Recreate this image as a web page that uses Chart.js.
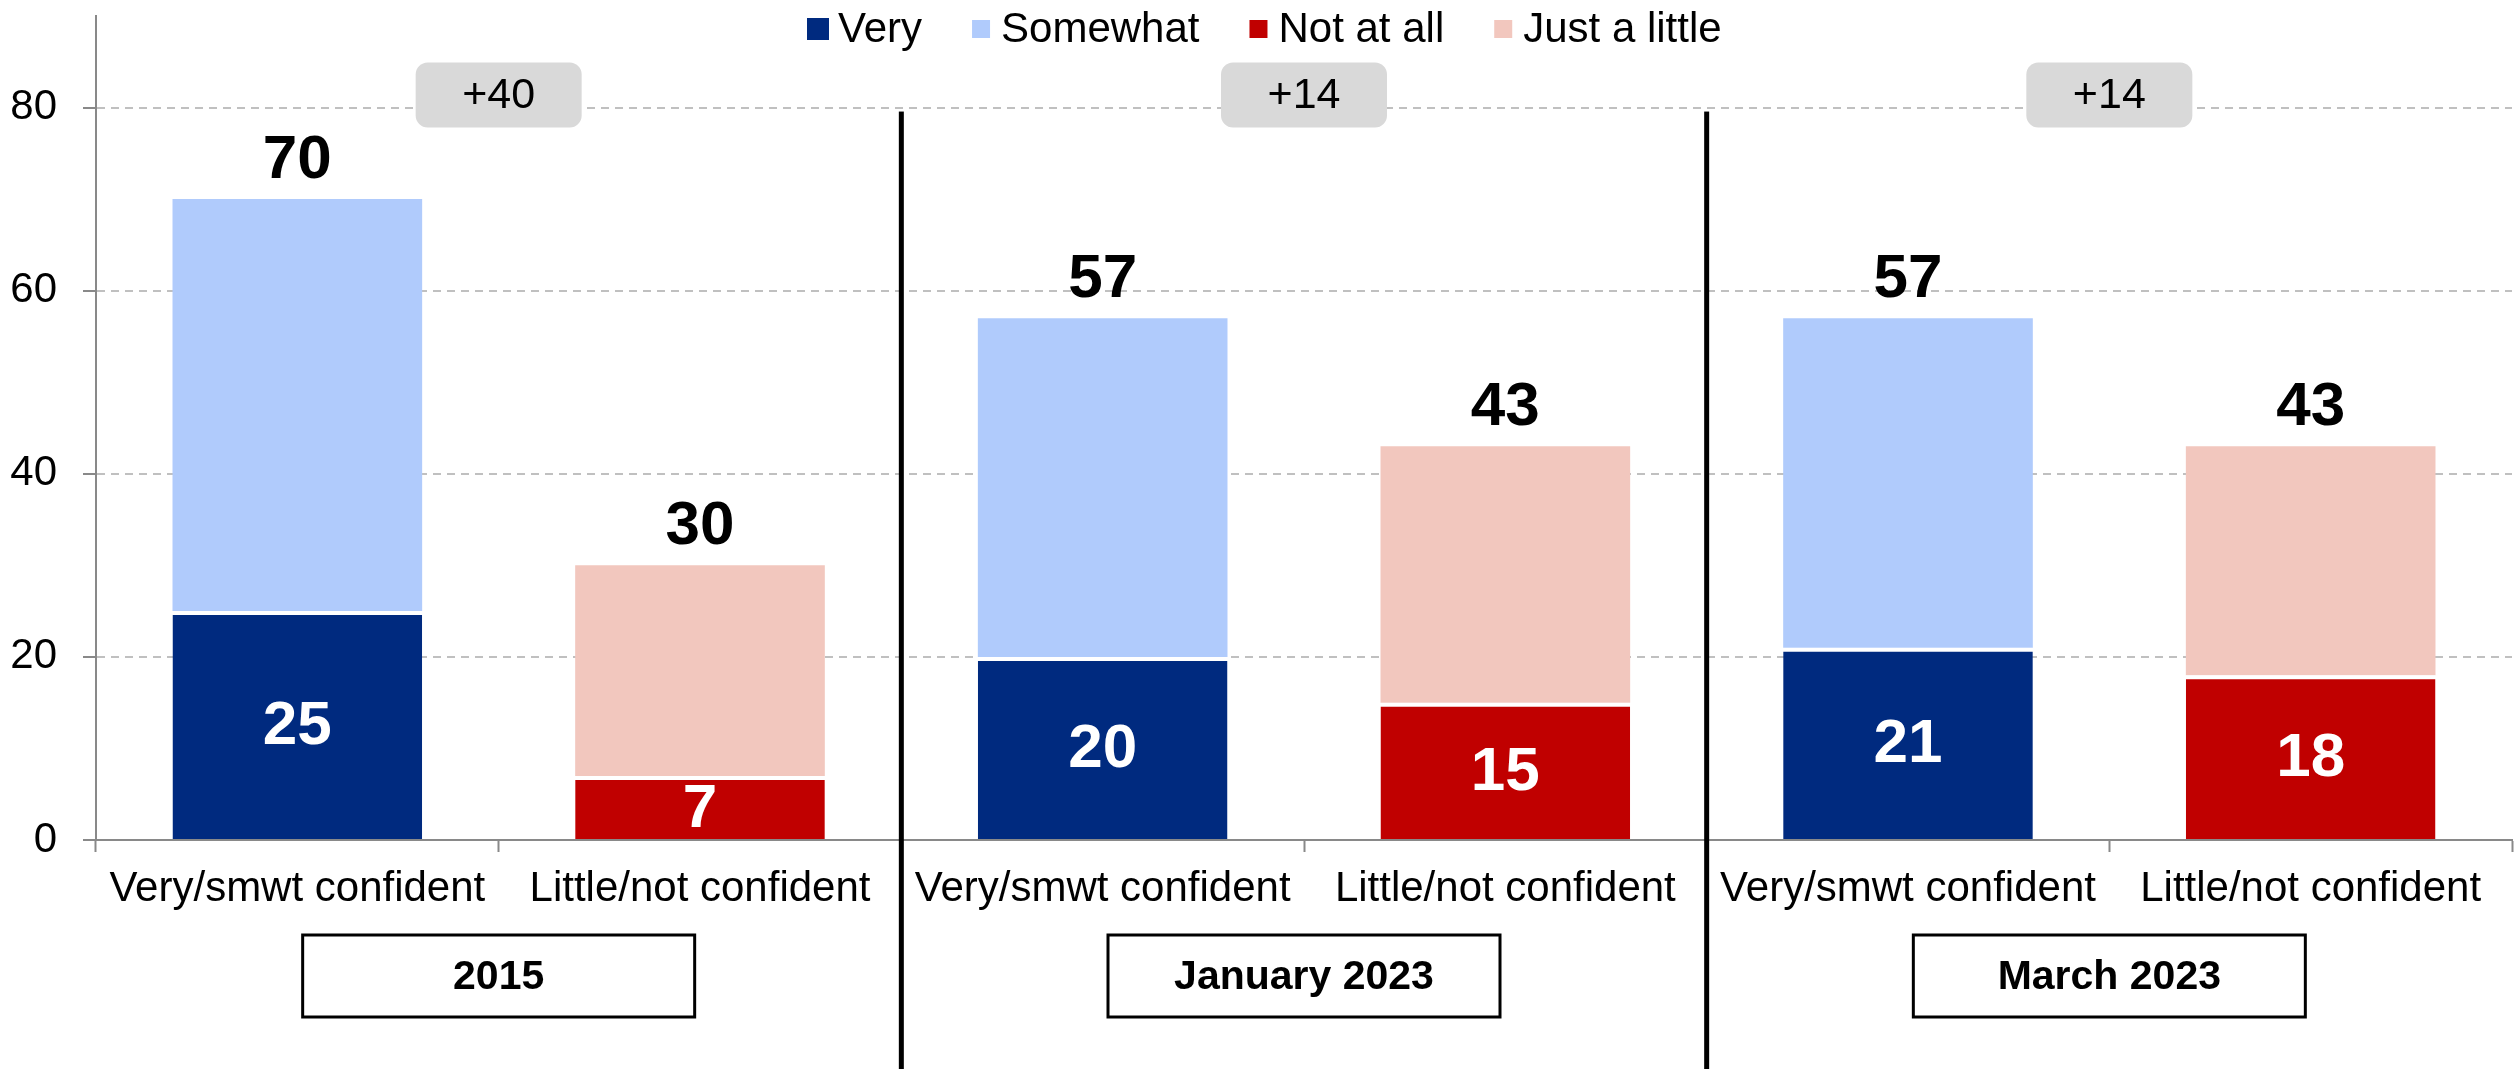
<!DOCTYPE html>
<html>
<head>
<meta charset="utf-8">
<title>Confidence</title>
<script src="https://cdn.jsdelivr.net/npm/chart.js@4.4.1/dist/chart.umd.min.js"></script>
<style>
  html, body { margin: 0; padding: 0; background: #fff; }
  #wrap { width: 2514px; height: 1069px; position: relative; }
</style>
</head>
<body>
<div id="wrap"><canvas id="confChart"></canvas></div>
<script>
// data
const categories = ['Very/smwt confident', 'Little/not confident',
                    'Very/smwt confident', 'Little/not confident',
                    'Very/smwt confident', 'Little/not confident'];
const groups = ['2015', 'January 2023', 'March 2023'];
const gaps = ['+40', '+14', '+14'];
const very = [25, null, 20, null, 21, null];
const somewhat = [45, null, 37, null, 36, null];
const notAtAll = [null, 7, null, 15, null, 18];
const justALittle = [null, 23, null, 28, null, 25];
const totals = [70, 30, 57, 43, 57, 43];
const yTicks = [0, 20, 40, 60, 80];

const FONT = "'Liberation Sans', Arial, sans-serif";
Chart.defaults.font.family = FONT;
Chart.defaults.color = '#000';

/**
 * Labels, gap bubbles, group boxes, separators and legend
 */
const overlayPlugin = {
    id: 'overlay',
    afterDatasetsDraw(chart) {
        const { ctx, scales: { x, y } } = chart;
        ctx.save();
        ctx.textAlign = 'center';
        ctx.textBaseline = 'middle';

        // values inside the bottom segments
        ctx.fillStyle = '#fff';
        ctx.font = `bold 62px ${FONT}`;
        [0, 2].forEach(di => {
            const meta = chart.getDatasetMeta(di);
            meta.data.forEach((bar, i) => {
                const v = chart.data.datasets[di].data[i];
                if (v == null) return;
                ctx.fillText(String(v), bar.x, (bar.y + bar.base) / 2 + 2);
            });
        });

        // totals above bars
        ctx.fillStyle = '#000';
        totals.forEach((t, i) => {
            ctx.fillText(String(t), x.getPixelForValue(i), y.getPixelForValue(t) - 38);
        });
        ctx.restore();
    },
    afterDraw(chart) {
        const { ctx, scales: { x, y }, chartArea } = chart;
        ctx.save();
        ctx.textAlign = 'center';
        ctx.textBaseline = 'middle';

        groups.forEach((g, gi) => {
            const cx = (x.getPixelForValue(gi * 2) + x.getPixelForValue(gi * 2 + 1)) / 2;

            // gap bubble
            const cy = y.getPixelForValue(80) - 13;
            ctx.fillStyle = '#d9d9d9';
            ctx.beginPath();
            ctx.roundRect(cx - 83, cy - 32, 166, 65, 12);
            ctx.fill();
            ctx.fillStyle = '#000';
            ctx.font = `43px ${FONT}`;
            ctx.fillText(gaps[gi], cx, cy + 2);

            // group box
            const top = chartArea.bottom + 95;
            ctx.strokeStyle = '#000';
            ctx.lineWidth = 3;
            ctx.strokeRect(cx - 196, top, 392, 82);
            ctx.font = `bold 41px ${FONT}`;
            ctx.fillText(g, cx, top + 43);

            // separator
            if (gi > 0) {
                const sx = (x.getPixelForValue(gi * 2 - 1) + x.getPixelForValue(gi * 2)) / 2;
                ctx.fillRect(sx - 2.5, y.getPixelForValue(80) + 4, 5, chart.height);
            }
        });

        // legend
        ctx.textAlign = 'left';
        ctx.textBaseline = 'alphabetic';
        ctx.font = `42px ${FONT}`;
        let lx = 807;
        chart.data.datasets.forEach((ds, i) => {
            const sq = i === 0 ? 22 : 18;
            ctx.fillStyle = ds.backgroundColor;
            ctx.fillRect(lx + (i === 0 ? 0 : 2), 29 - sq / 2, sq, sq);
            ctx.fillStyle = '#000';
            ctx.fillText(ds.label, lx + 31, 42);
            lx += 31 + ctx.measureText(ds.label).width + 48;
        });
        ctx.restore();
    }
};

const ctx = document.getElementById('confChart').getContext('2d');
new Chart(ctx, {
    type: 'bar',
    data: {
        labels: categories,
        datasets: [
            { label: 'Very', data: very, backgroundColor: '#002A7F',
              borderColor: '#fff', borderWidth: { top: 4, left: 0, right: 0, bottom: 0 } },
            { label: 'Somewhat', data: somewhat, backgroundColor: '#B0CBFC', borderWidth: 0 },
            { label: 'Not at all', data: notAtAll, backgroundColor: '#C00000',
              borderColor: '#fff', borderWidth: { top: 4, left: 0, right: 0, bottom: 0 } },
            { label: 'Just a little', data: justALittle, backgroundColor: '#F2C7BE', borderWidth: 0 }
        ]
    },
    options: {
        responsive: true,
        maintainAspectRatio: false,
        animation: false,
        layout: { padding: { top: 16, right: 2, left: 0, bottom: 0 } },
        datasets: { bar: { categoryPercentage: 1, barPercentage: 0.62, skipNull: true } },
        scales: {
            x: {
                stacked: true,
                afterFit: s => { s.height = 229; s.paddingLeft = 0; s.paddingRight = 0; },
                grid: { offset: true, drawOnChartArea: false, tickLength: 12, tickColor: '#898989', tickWidth: 2 },
                border: { color: '#898989', width: 2 },
                ticks: { font: { size: 42 }, color: '#000', padding: 12, maxRotation: 0, autoSkip: false }
            },
            y: {
                stacked: true,
                min: 0,
                max: 90,
                afterFit: s => { s.width = 96; s.paddingTop = 0; s.paddingBottom = 0; },
                afterBuildTicks: s => { s.ticks = yTicks.map(v => ({ value: v })); },
                grid: { color: '#c0c0c0', lineWidth: 2, tickLength: 13, tickColor: '#898989', tickWidth: 2 },
                border: { color: '#898989', width: 2, dash: [8, 6] },
                ticks: { font: { size: 42 }, color: '#000', padding: 26 }
            }
        },
        plugins: {
            legend: { display: false },
            tooltip: { enabled: false }
        }
    },
    plugins: [overlayPlugin]
});
</script>
</body>
</html>
